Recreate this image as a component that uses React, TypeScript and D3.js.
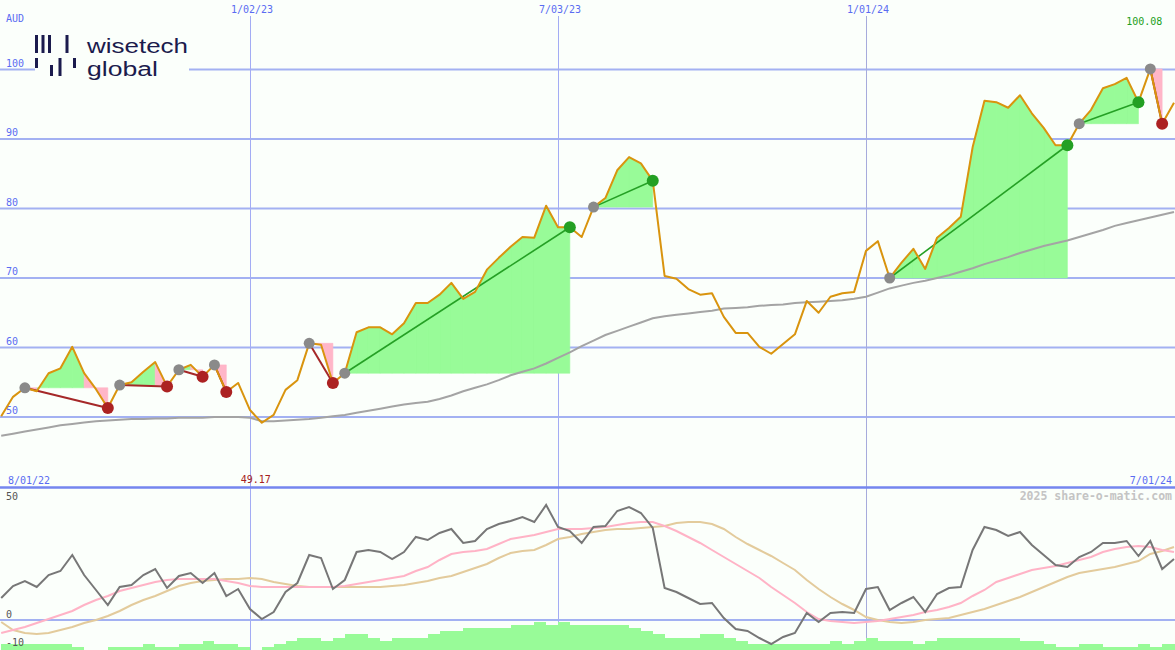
import React from 'react';
import * as d3 from 'd3';

// ---------- DATA ----------
const START = new Date(2022, 7, 8);
const END = new Date(2024, 6, 1);

const price = [
  50.1, 52.9, 54.2, 53.7, 56.3, 57.0, 60.1, 56.3, 54.0, 51.3,
  54.6, 55.0, 56.5, 57.9, 54.4, 56.8, 57.5, 55.8, 57.5, 53.6,
  54.9, 51.0, 49.17, 50.3, 53.9, 55.3, 60.6, 60.4, 54.9, 56.3,
  62.2, 62.9, 62.9, 61.9, 63.5, 66.4, 66.4, 67.6, 69.3, 67.0,
  68.0, 71.2, 72.9, 74.5, 75.9, 75.8, 80.4, 77.3, 77.3, 75.9,
  80.2, 81.5, 85.5, 87.4, 86.5, 84.0, 70.3, 69.9, 68.4, 67.6,
  67.8, 64.4, 62.1, 62.1, 60.1, 59.1, 60.5, 61.9, 66.7, 65.0,
  67.3, 67.8, 68.0, 73.9, 75.3, 70.0, 72.2, 74.2, 71.3, 75.8,
  77.2, 78.8, 88.8, 95.5, 95.3, 94.5, 96.3, 93.7, 91.6, 89.1,
  89.1, 92.2, 94.2, 97.3, 97.9, 98.8, 95.3, 100.08, 92.2, 95.2,
];

const movingAvg = [
  47.3, 47.6, 47.9, 48.2, 48.5, 48.8, 49.0, 49.2, 49.4, 49.5,
  49.6, 49.7, 49.7, 49.8, 49.8, 49.9, 49.9, 49.9, 50.0, 50.0,
  50.0, 49.9, 49.4, 49.4, 49.5, 49.6, 49.7, 49.9, 50.1, 50.3,
  50.6, 50.9, 51.2, 51.5, 51.8, 52.0, 52.2, 52.6, 53.1, 53.7,
  54.2, 54.7, 55.3, 56.0, 56.5, 57.0, 57.7, 58.5, 59.3, 60.2,
  61.0, 61.8, 62.4, 63.0, 63.6, 64.2, 64.5, 64.7, 64.9, 65.1,
  65.3, 65.6, 65.7, 65.8, 66.0, 66.1, 66.2, 66.4, 66.5, 66.6,
  66.7, 66.8, 67.0, 67.3, 67.9, 68.5, 68.9, 69.3, 69.6, 70.0,
  70.4, 70.9, 71.4, 72.0, 72.5, 73.0, 73.6, 74.1, 74.6, 75.0,
  75.4, 75.9, 76.4, 76.9, 77.5, 77.9, 78.3, 78.7, 79.1, 79.5,
];

const oscillator = [
  8.8, 13.6, 15.6, 13.2, 18.0, 19.6, 26.0, 18.0, 12.0, 6.0,
  13.2, 14.0, 18.0, 20.4, 12.8, 17.6, 18.8, 14.8, 18.8, 9.6,
  12.4, 4.4, 0.4, 3.2, 11.2, 14.8, 26.0, 24.8, 12.4, 16.0,
  27.2, 28.0, 27.2, 24.4, 27.2, 33.2, 32.0, 34.8, 36.4, 30.8,
  31.6, 36.4, 38.4, 39.6, 41.2, 39.2, 46.0, 37.2, 35.6, 30.8,
  37.2, 37.6, 43.6, 45.2, 42.8, 36.8, 12.8, 11.2, 8.8, 6.4,
  6.8, 0.8, -3.6, -4.4, -7.2, -9.6, -6.8, -5.2, 2.8, -0.8,
  2.8, 3.2, 2.8, 12.4, 13.2, 4.0, 6.8, 9.2, 3.2, 10.4,
  12.8, 13.2, 28.0, 37.2, 36.0, 33.6, 35.2, 30.0, 26.0, 22.0,
  21.2, 25.2, 27.2, 30.8, 30.8, 31.6, 25.6, 31.6, 20.4, 24.4,
];

const signalFast = [
  -5.2, -4.0, -2.8, -1.2, 0.4, 2.0, 3.6, 6.0, 8.0, 9.6,
  11.6, 12.8, 14.0, 15.2, 16.0, 16.4, 16.4, 16.4, 16.4, 15.6,
  14.8, 13.6, 13.2, 13.2, 13.2, 13.2, 13.2, 13.2, 13.2, 13.6,
  14.4, 15.2, 16.0, 16.8, 17.6, 19.6, 21.2, 24.0, 26.4, 27.2,
  27.6, 28.4, 30.4, 32.4, 33.2, 34.0, 35.2, 36.4, 36.4, 36.4,
  36.8, 37.2, 38.0, 38.8, 39.2, 39.2, 37.6, 35.6, 33.2, 30.8,
  28.0, 25.2, 22.4, 19.6, 16.8, 13.2, 10.0, 6.8, 3.2, 0.4,
  -0.4, -0.8, -1.2, -0.8, -0.4, 0.4, 1.2, 2.0, 3.2, 4.0,
  5.2, 6.8, 9.6, 12.0, 15.2, 16.8, 18.4, 20.0, 20.8, 21.6,
  22.8, 24.0, 25.2, 27.2, 28.4, 29.2, 29.6, 29.2, 28.0, 27.2,
];

const signalSlow = [
  -0.8, -4.0, -5.2, -5.6, -5.2, -4.0, -2.8, -1.2, 0.0, 1.6,
  3.6, 6.0, 8.0, 9.6, 11.6, 13.6, 14.8, 15.6, 16.0, 16.4,
  16.4, 16.8, 16.4, 15.2, 14.4, 13.6, 13.2, 13.2, 13.2, 13.2,
  13.2, 13.2, 13.2, 13.6, 14.0, 14.8, 15.6, 16.8, 17.6, 19.2,
  20.8, 22.4, 24.8, 26.8, 27.6, 28.0, 30.0, 32.4, 33.2, 34.4,
  35.2, 36.0, 36.4, 36.4, 36.8, 37.2, 37.6, 38.8, 39.2, 39.2,
  38.4, 36.4, 33.2, 30.4, 28.0, 25.6, 22.8, 20.0, 16.0, 12.4,
  9.2, 6.4, 4.0, 1.2, 0.0, -0.8, -1.2, -0.8, 0.0, 0.4,
  0.8, 2.0, 3.2, 4.4, 6.0, 7.6, 9.2, 11.2, 13.2, 15.2,
  17.2, 18.8, 19.6, 20.4, 21.2, 22.4, 23.6, 26.4, 27.6, 29.2,
];

const histogram = [
  2, 2, 2, 2, 2, 2, 1, 0, 0, 1,
  1, 1, 2, 1, 1, 2, 2, 3, 2, 2,
  1, 0, 1, 2, 3, 4, 4, 3, 4, 5,
  5, 4, 3, 4, 4, 4, 5, 6, 6, 7,
  7, 7, 7, 8, 8, 9, 8, 9, 8, 8,
  8, 8, 8, 7, 6, 5, 4, 4, 4, 5,
  5, 4, 3, 2, 2, 2, 2, 2, 2, 2,
  3, 2, 3, 4, 3, 3, 3, 2, 3, 4,
  4, 4, 4, 4, 4, 4, 3, 3, 2, 1,
  1, 2, 2, 1, 1, 1, 2, 1, 2, 2,
];

// entry index, exit index
const tradeEntries = [2, 10, 15, 18, 26, 29, 50, 75, 91, 97];
const tradeExits = [9, 14, 17, 19, 28, 48, 55, 90, 96, 98];

const priceTicks = [50, 60, 70, 80, 90, 100];
const dateTickDates = [new Date(2023, 0, 2), new Date(2023, 6, 3), new Date(2024, 0, 1)];
const dateTickLabels = ['1/02/23', '7/03/23', '1/01/24'];
const lowerTicks = [50, 0, -10];

// ---------- STYLE ----------
const BG = '#fbfffb';
const GRID = '#a3b1f2';
const AXIS_TEXT = '#5a6cf2';
const MONO = "'DejaVu Sans Mono', monospace";
const GREEN_FILL = '#98fb98';
const PINK_FILL = '#ffb6c8';

export default function App() {
  const W = 1175;
  const H = 650;
  const dates = price.map((_, i) => d3.timeDay.offset(START, 7 * i));
  const x = d3.scaleTime().domain([START, END]).range([1.2, 1174]);
  const y = d3.scaleLinear().domain([50, 100]).range([417, 69.5]);
  const yLow = d3.scaleLinear().domain([0, 50]).range([620, 495]);
  const yHist = d3.scaleLinear().domain([0, 9]).range([650, 622]);

  const priceLine = d3.line<number>().x((_, i) => x(dates[i])).y((d) => y(d));
  const lowLine = d3.line<number>().x((_, i) => x(dates[i])).y((d) => yLow(d));

  // trade fills: one path per colour per trade
  const fills: { d: string; color: string }[] = [];
  tradeEntries.forEach((a, k) => {
    const b = tradeExits[k];
    const base = price[a];
    const yb = y(base);
    let green = '';
    let pink = '';
    for (let i = a; i < b; i++) {
      const x0 = x(dates[i]);
      const x1 = x(dates[i + 1]);
      const seg = `M${x0},${yb}L${x0},${y(price[i])}L${x1},${y(price[i + 1])}L${x1},${yb}Z`;
      if (price[i + 1] >= base) green += seg;
      else pink += seg;
    }
    if (green) fills.push({ d: green, color: GREEN_FILL });
    if (pink) fills.push({ d: pink, color: PINK_FILL });
  });

  const minIdx = d3.minIndex(price);
  const maxIdx = d3.maxIndex(price);
  const fmt = d3.timeFormat('%-m/%d/%y');

  return (
    <div style={{ position: 'absolute', left: 0, top: 0 }}>
      <svg width={W} height={H} style={{ display: 'block', background: BG }}>
        <rect x={0} y={0} width={W} height={H} fill={BG} />

        {/* horizontal grid main */}
        {priceTicks.map((t) => (
          <line key={'g' + t} x1={0} x2={W} y1={y(t)} y2={y(t)} stroke={GRID} strokeWidth={2} />
        ))}
        {/* vertical grid */}
        {dateTickDates.map((d, i) => (
          <line
            key={'v' + i}
            x1={Math.round(x(d)) + 0.5}
            x2={Math.round(x(d)) + 0.5}
            y1={16}
            y2={H}
            stroke={i === 2 ? '#a6abdc' : '#a3acf4'}
            strokeWidth={1}
          />
        ))}
        {/* lower panel zero line */}
        <line x1={0} x2={W} y1={yLow(0)} y2={yLow(0)} stroke={GRID} strokeWidth={2} />

        {/* logo background */}
        <rect x={35} y={28} width={154} height={58} fill={BG} />

        {/* price axis labels */}
        <text x={6} y={22} fill={AXIS_TEXT} fontFamily={MONO} fontSize={10}>AUD</text>
        {priceTicks.map((t) => (
          <text key={'pl' + t} x={6} y={y(t) - 3} fill={AXIS_TEXT} fontFamily={MONO} fontSize={10}>
            {t}
          </text>
        ))}
        {dateTickDates.map((d, i) => (
          <text key={'dl' + i} x={x(d) + 2} y={13} textAnchor="middle" fill={AXIS_TEXT} fontFamily={MONO} fontSize={10}>
            {dateTickLabels[i]}
          </text>
        ))}

        {/* trade fills */}
        {fills.map((f, i) => (
          <path key={'f' + i} d={f.d} fill={f.color} stroke={f.color} strokeWidth={0.6} strokeLinejoin="miter" />
        ))}

        {/* moving average */}
        <path d={priceLine(movingAvg) || ''} fill="none" stroke="#a4a4a4" strokeWidth={2} />

        {/* trade lines */}
        {tradeEntries.map((a, k) => {
          const b = tradeExits[k];
          const win = price[b] > price[a];
          return (
            <line
              key={'tl' + k}
              x1={x(dates[a])}
              y1={y(price[a])}
              x2={x(dates[b])}
              y2={y(price[b])}
              stroke={win ? '#25a025' : '#a52828'}
              strokeWidth={win ? 1.6 : 2}
            />
          );
        })}

        {/* price line */}
        <path d={priceLine(price) || ''} fill="none" stroke="#d9940e" strokeWidth={2} strokeLinejoin="round" />

        {/* dots */}
        {tradeEntries.map((a, k) => (
          <circle key={'ed' + k} cx={x(dates[a])} cy={y(price[a])} r={5.5} fill="#8a8a8a" />
        ))}
        {tradeExits.map((b, k) => {
          const win = price[b] > price[tradeEntries[k]];
          return (
            <circle key={'xd' + k} cx={x(dates[b])} cy={y(price[b])} r={6} fill={win ? '#23a023' : '#ac2222'} />
          );
        })}

        {/* max / min labels */}
        <text x={x(dates[maxIdx]) - 6} y={25} textAnchor="middle" fill="#22a022" fontFamily={MONO} fontSize={10}>
          {price[maxIdx].toFixed(2)}
        </text>
        <text x={x(dates[minIdx]) - 6} y={483} textAnchor="middle" fill="#a52020" fontFamily={MONO} fontSize={10}>
          {price[minIdx].toFixed(2)}
        </text>
        <text x={8} y={484} fill={AXIS_TEXT} fontFamily={MONO} fontSize={10}>
          {fmt(new Date(2022, 7, 1))}
        </text>
        <text x={1172} y={484} textAnchor="end" fill={AXIS_TEXT} fontFamily={MONO} fontSize={10}>
          {fmt(END)}
        </text>

        {/* separator */}
        <line x1={0} x2={W} y1={487.5} y2={487.5} stroke="#7586ef" strokeWidth={2.5} />

        {/* watermark */}
        <text x={1172} y={500} textAnchor="end" fill="#c4c4c4" fontFamily={MONO} fontSize={11.5} fontWeight="bold">
          2025 share-o-matic.com
        </text>

        {/* histogram */}
        <g shapeRendering="crispEdges">
          {histogram.map((h, i) => {
            if (h <= 0) return null;
            const x0 = Math.round(x(dates[i]));
            const x1 = i < histogram.length - 1 ? Math.round(x(dates[i + 1])) : W;
            return (
              <rect key={'h' + i} x={x0} y={Math.round(yHist(h))} width={x1 - x0} height={H - Math.round(yHist(h))} fill={GREEN_FILL} />
            );
          })}
        </g>

        {/* lower panel lines */}
        <path d={lowLine(signalSlow) || ''} fill="none" stroke="#e3cb9c" strokeWidth={2} />
        <path d={lowLine(signalFast) || ''} fill="none" stroke="#ffb3c6" strokeWidth={2} />
        <path d={lowLine(oscillator) || ''} fill="none" stroke="#777" strokeWidth={2} />

        {/* lower panel labels */}
        {lowerTicks.map((t) => (
          <text key={'ll' + t} x={6} y={t === 50 ? 500 : t === 0 ? 618 : 646} fill="#555" fontFamily={MONO} fontSize={10}>
            {t}
          </text>
        ))}

        {/* logo */}
        <g fill="#1b1b4d">
          <rect x={35} y={35} width={3} height={18} />
          <rect x={41.5} y={35} width={3} height={18} />
          <rect x={48} y={35} width={3} height={18} />
          <rect x={65.5} y={35} width={3} height={18} />
          <rect x={35} y={58} width={3} height={10} />
          <rect x={50} y={65} width={3} height={11} />
          <rect x={58.5} y={58} width={3} height={18} />
          <rect x={73} y={58} width={3} height={10} />
          <text x={87} y={52.5} fontFamily="'Liberation Sans', Arial, sans-serif" fontSize={20} textLength={101} lengthAdjust="spacingAndGlyphs">
            wisetech
          </text>
          <text x={87} y={75.5} fontFamily="'Liberation Sans', Arial, sans-serif" fontSize={20} textLength={71} lengthAdjust="spacingAndGlyphs">
            global
          </text>
        </g>
      </svg>
    </div>
  );
}
